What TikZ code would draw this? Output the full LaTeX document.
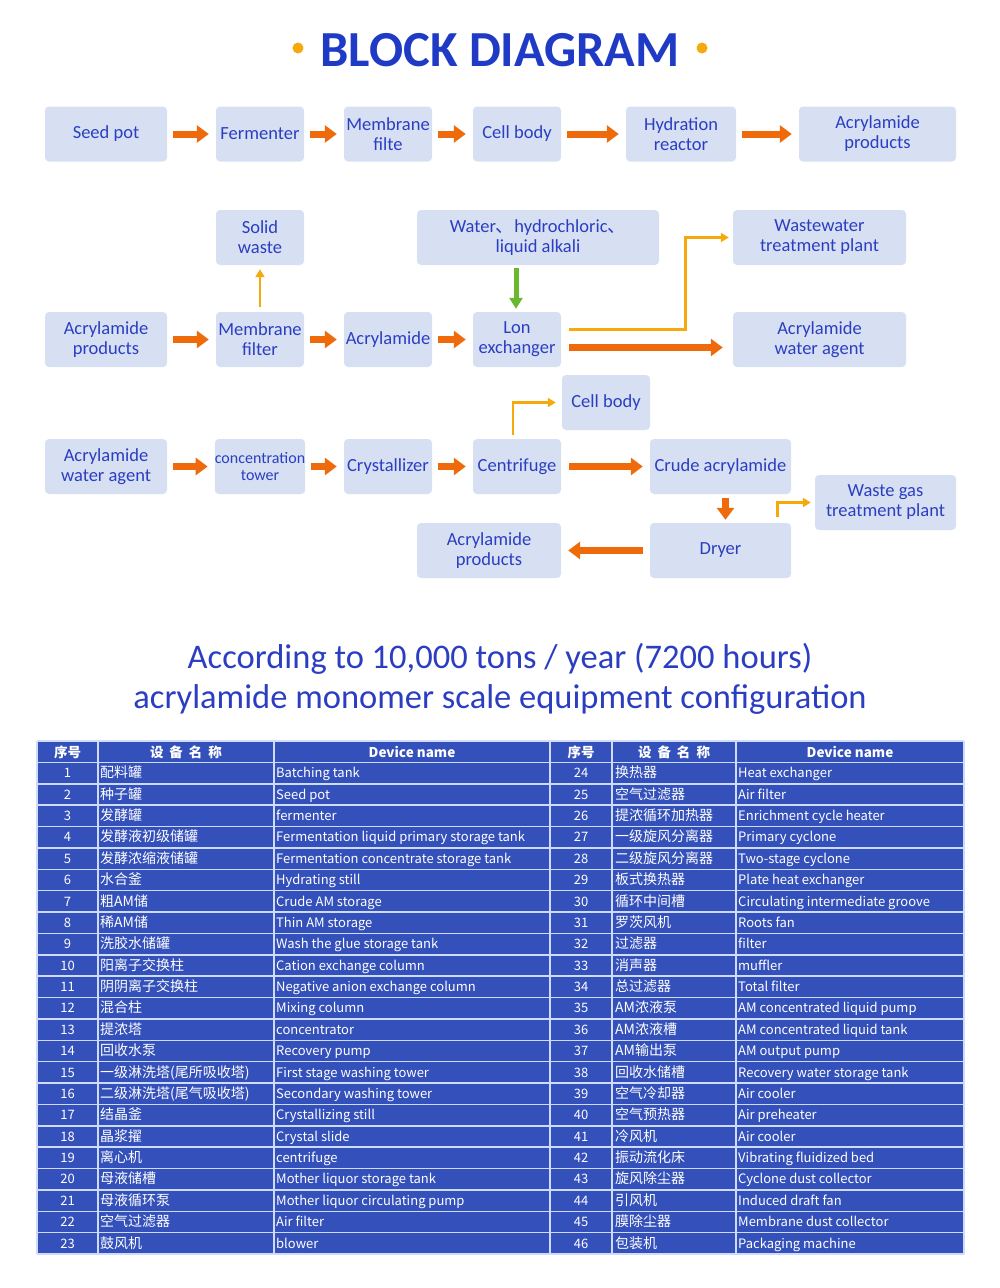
\documentclass[tikz,border=0pt]{standalone}
\usepackage{fontspec}
\setmainfont{Carlito}
\newfontfamily\cjk{Noto Sans CJK SC}
\usetikzlibrary{arrows.meta,positioning}
\definecolor{boxfill}{HTML}{D6E0F2}
\definecolor{inkblue}{HTML}{2B3EC2}
\definecolor{titleblue}{HTML}{1F3BC6}
\definecolor{flowor}{HTML}{EE6A0A}
\definecolor{sideyel}{HTML}{F5A90C}
\definecolor{feedgrn}{HTML}{6BB82C}
\definecolor{tabfill}{HTML}{3450BA}
\definecolor{tabline}{HTML}{CFDBFA}

\begin{document}
\begin{tikzpicture}[x=1pt,y=-1pt,
blk/.style={
  fill=boxfill,
  rounded corners=4pt,
  text=inkblue,
  align=center,
  inner sep=0pt,
  minimum height=55pt,
  font=\fontsize{18.5}{20}\selectfont
  },
flow/.style={
  draw=flowor,
  line width=7pt,
  -{Triangle[length=12pt,width=17pt]},
  shorten <=6pt,
  shorten >=7pt
  },
side/.style={
  draw=sideyel,
  line width=2.6pt,
  -{Triangle[length=8pt,width=9pt]},
  shorten <=5pt,
  shorten >=4pt
  },
feed/.style={
  draw=feedgrn,
  line width=5pt,
  -{Triangle[length=11pt,width=13pt]},
  shorten <=3pt,
  shorten >=3pt
  },
cell/.style={
  text=white,
  inner sep=0pt,
  text height=11pt,
  text depth=1.5pt,
  font=\cjk\fontsize{13}{15}\selectfont
  },
cncell/.style={
  cell,
  font=\cjk\fontsize{14}{15}\selectfont
  },
head/.style={
  cell,
  font=\cjk\bfseries\fontsize{13.5}{15}\selectfont
  }]
\useasboundingbox (0,0) rectangle (1000,1288);

\node[text=titleblue,font=\bfseries\fontsize{50.5}{56}\selectfont] (title) at (500,50) {BLOCK DIAGRAM};
\fill[sideyel] (298,48) circle (5.5pt);
\fill[sideyel] (702,48) circle (5.5pt);

% first line
\node[blk,minimum width=122pt] (seed) at (106,134) {Seed pot};
\node[blk,minimum width=88pt] (ferm) at (260,134) {Fermenter};
\node[blk,minimum width=88pt] (memb1) at (388,134) {Membrane\\filte};
\node[blk,minimum width=88pt] (cell1) at (517,134) {Cell body};
\node[blk,minimum width=110pt] (hydr) at (681,134) {Hydration\\reactor};
\node[blk,minimum width=157pt] (prod1) at (877.5,134) {Acrylamide\\products};

\draw[flow] (seed) -- (ferm);
\draw[flow] (ferm) -- (memb1);
\draw[flow] (memb1) -- (cell1);
\draw[flow] (cell1) -- (hydr);
\draw[flow] (hydr) -- (prod1);

% second line
\node[blk,minimum width=88pt] (solid) at (260,237.5) {Solid\\waste};
\node[blk,minimum width=242pt] (water) at (538,237.5) {Water{\cjk 、}hydrochloric{\cjk 、}\\liquid alkali};
\node[blk,minimum width=173pt] (wwt) at (819.5,237.5) {Wastewater\\treatment plant};
\node[blk,minimum width=122pt] (prod2) at (106,339.5) {Acrylamide\\products};
\node[blk,minimum width=88pt] (memb2) at (260,339.5) {Membrane\\filter};
\node[blk,minimum width=88pt] (acryl) at (388,339.5) {Acrylamide};
\node[blk,minimum width=88pt] (lon) at (517,339.5) {Lon\\exchanger};
\node[blk,minimum width=173pt] (agent1) at (819.5,339.5) {Acrylamide\\water agent};

\draw[flow] (prod2) -- (memb2);
\draw[flow] (memb2) -- (acryl);
\draw[flow] (acryl) -- (lon);
\draw[flow,shorten <=8pt,shorten >=10pt] ([yshift=-8pt]lon.east) -- ([yshift=-8pt]lon.east -| agent1.west);
\draw[side,shorten <=8pt] ([yshift=10pt]lon.east) -- ++(124,0) |- (wwt.west);
\draw[side] (memb2.north) -- (solid.south);
\draw[feed] ([xshift=-22pt]water.south) -- ([xshift=-22pt]water.south |- lon.north);

% third line
\node[blk,minimum width=122pt] (agent2) at (106,466.5) {Acrylamide\\water agent};
\node[blk,minimum width=88pt,font=\fontsize{16}{17}\selectfont] (conc) at (260,466.5) {concentration\\tower};
\node[blk,minimum width=88pt] (cryst) at (388,466.5) {Crystallizer};
\node[blk,minimum width=88pt] (cent) at (517,466.5) {Centrifuge};
\node[blk,minimum width=141pt] (crude) at (720.5,466.5) {Crude acrylamide};
\node[blk,minimum width=88pt] (cell2) at (606,402.5) {Cell body};
\node[blk,minimum width=141pt] (gas) at (885.5,502.5) {Waste gas\\treatment plant};
\node[blk,minimum width=141pt] (dryer) at (720.5,550.5) {Dryer};
\node[blk,minimum width=144pt] (prod3) at (489,550.5) {Acrylamide\\products};

\draw[flow] (agent2) -- (conc);
\draw[flow] (conc) -- (cryst);
\draw[flow] (cryst) -- (cent);
\draw[flow,shorten <=8pt] (cent) -- (crude);
\draw[flow,shorten <=4pt,shorten >=3pt] ([xshift=5pt]crude.south) -- ([xshift=5pt]crude.south |- dryer.north);
\draw[flow,shorten <=7pt] (dryer) -- (prod3);
\draw[side,shorten <=4pt,shorten >=6pt] ([xshift=-4pt]cent.north) |- (cell2.west);
\draw[side,shorten <=6pt] ([xshift=-14pt]dryer.north east) |- (gas.west);

\node[text=inkblue,font=\fontsize{34.5}{38}\selectfont] (sub1) at (500,659) {According to 10,000 tons / year (7200 hours)};
\node[text=inkblue,font=\fontsize{34.5}{38}\selectfont] (sub2) at (500,699) {acrylamide monomer scale equipment configuration};

% table
\fill[tabfill] (37,741) rectangle (964,1254);
\foreach \r in {0,...,24}
  \draw[tabline,line width=1.5pt] (37,741+21.375*\r) -- (964,741+21.375*\r);
\foreach \c in {37,98,274,550,612,736,964}
  \draw[tabline,line width=1.5pt] (\c,741) -- (\c,1254);

\node[head] (h1) at (67.5,752.5) {序号};
\node[head] (h2) at (186,752.5) {设\hspace{6pt}备\hspace{6pt}名\hspace{6pt}称};
\node[head] (h3) at (412,752.5) {Device name};
\node[head] (h4) at (581,752.5) {序号};
\node[head] (h5) at (674,752.5) {设\hspace{6pt}备\hspace{6pt}名\hspace{6pt}称};
\node[head] (h6) at (850,752.5) {Device name};

\foreach \i/\cn/\en [evaluate=\i as \yy using 741+21.375*(\i+0.5)] in {
  1/配料罐/Batching tank,
  2/种子罐/Seed pot,
  3/发酵罐/fermenter,
  4/发酵液初级储罐/Fermentation liquid primary storage tank,
  5/发酵浓缩液储罐/Fermentation concentrate storage tank,
  6/水合釜/Hydrating still,
  7/粗AM储/Crude AM storage,
  8/稀AM储/Thin AM storage,
  9/洗胶水储罐/Wash the glue storage tank,
  10/阳离子交换柱/Cation exchange column,
  11/阴阴离子交换柱/Negative anion exchange column,
  12/混合柱/Mixing column,
  13/提浓塔/concentrator,
  14/回收水泵/Recovery pump,
  15/一级淋洗塔(尾所吸收塔)/First stage washing tower,
  16/二级淋洗塔(尾气吸收塔)/Secondary washing tower,
  17/结晶釜/Crystallizing still,
  18/晶浆擢/Crystal slide,
  19/离心机/centrifuge,
  20/母液储槽/Mother liquor storage tank,
  21/母液循环泵/Mother liquor circulating pump,
  22/空气过滤器/Air filter,
  23/鼓风机/blower}
{
  \node[cell] (no-\i) at (67.5,\yy) {\i};
  \node[cncell,anchor=west] (cn-\i) at (100,\yy) {\cn};
  \node[cell,anchor=west] (en-\i) at (276,\yy) {\en};
}

\foreach \i/\cn/\en [evaluate=\i as \yy using 741+21.375*(\i-22.5)] in {
  24/换热器/Heat exchanger,
  25/空气过滤器/Air filter,
  26/提浓循环加热器/Enrichment cycle heater,
  27/一级旋风分离器/Primary cyclone,
  28/二级旋风分离器/Two-stage cyclone,
  29/板式换热器/Plate heat exchanger,
  30/循环中间槽/Circulating intermediate groove,
  31/罗茨风机/Roots fan,
  32/过滤器/filter,
  33/消声器/muffler,
  34/总过滤器/Total filter,
  35/AM浓液泵/AM concentrated liquid pump,
  36/AM浓液槽/AM concentrated liquid tank,
  37/AM输出泵/AM output pump,
  38/回收水储槽/Recovery water storage tank,
  39/空气冷却器/Air cooler,
  40/空气预热器/Air preheater,
  41/冷风机/Air cooler,
  42/振动流化床/Vibrating fluidized bed,
  43/旋风除尘器/Cyclone dust collector,
  44/引风机/Induced draft fan,
  45/膜除尘器/Membrane dust collector,
  46/包装机/Packaging machine}
{
  \node[cell] (no-\i) at (581,\yy) {\i};
  \node[cncell,anchor=west] (cn-\i) at (615,\yy) {\cn};
  \node[cell,anchor=west] (en-\i) at (738,\yy) {\en};
}

\end{tikzpicture}
\end{document}
